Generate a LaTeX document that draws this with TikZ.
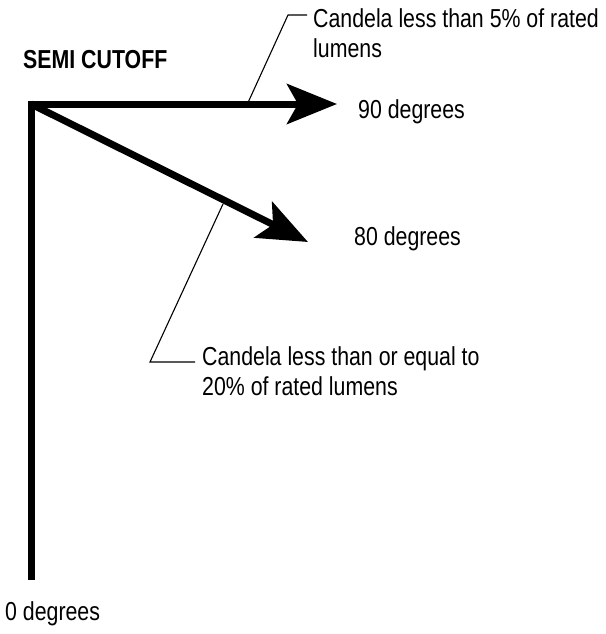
\documentclass[tikz,border=0pt]{standalone}
\usepackage{fontspec}
\setmainfont[FakeStretch=0.82]{Liberation Sans}
\usetikzlibrary{arrows.meta,positioning}

\tikzset{
  ray/.style={line width=7pt,-{Stealth[length=50pt,width=40pt,inset=11pt]}},
  leader/.style={line width=1.1pt},
  lbl/.style={inner sep=0pt,font=\fontsize{26}{30}\selectfont,align=left},
}

\begin{document}
\begin{tikzpicture}[x=1pt,y=-1pt]
  \useasboundingbox (0,0) rectangle (605,634);

  % the three directions
  \coordinate (corner) at (31,104);
  \coordinate (base)   at (31,580);
  \coordinate (tip90)  at (337,104);
  \coordinate (tip80)  at (308,242);

  % labels
  \node[lbl,anchor=base west,font=\fontsize{26}{30}\selectfont\bfseries] (title) at (23,69) {SEMI CUTOFF};
  \node[lbl,anchor=base west] (deg90) at (358,118) {90 degrees};
  \node[lbl,anchor=base west] (deg80) at (354,245) {80 degrees};
  \node[lbl,anchor=base west] (deg0)  at (5,620) {0 degrees};
  \node[lbl,anchor=north west] (note5)  at (313,8.5) {Candela less than 5\% of rated\\lumens};
  \node[lbl,anchor=north west] (note20) at (202,346.5) {Candela less than or equal to\\20\% of rated lumens};

  % leader lines
  \coordinate (on90)   at (246,107);
  \coordinate (knee90) at (288,15);
  \coordinate (end90)  at (307,15);
  \coordinate (on80)   at (223,204);
  \coordinate (knee80) at (150,362);
  \coordinate (end80)  at (195,362);
  \draw[leader] (on90) -- (knee90) -- (end90);
  \draw[leader] (on80) -- (knee80) -- (end80);

  % arrows
  \draw[ray] (base) -- (corner) -- (tip90);
  \draw[ray] (corner) -- (tip80);
\end{tikzpicture}
\end{document}
